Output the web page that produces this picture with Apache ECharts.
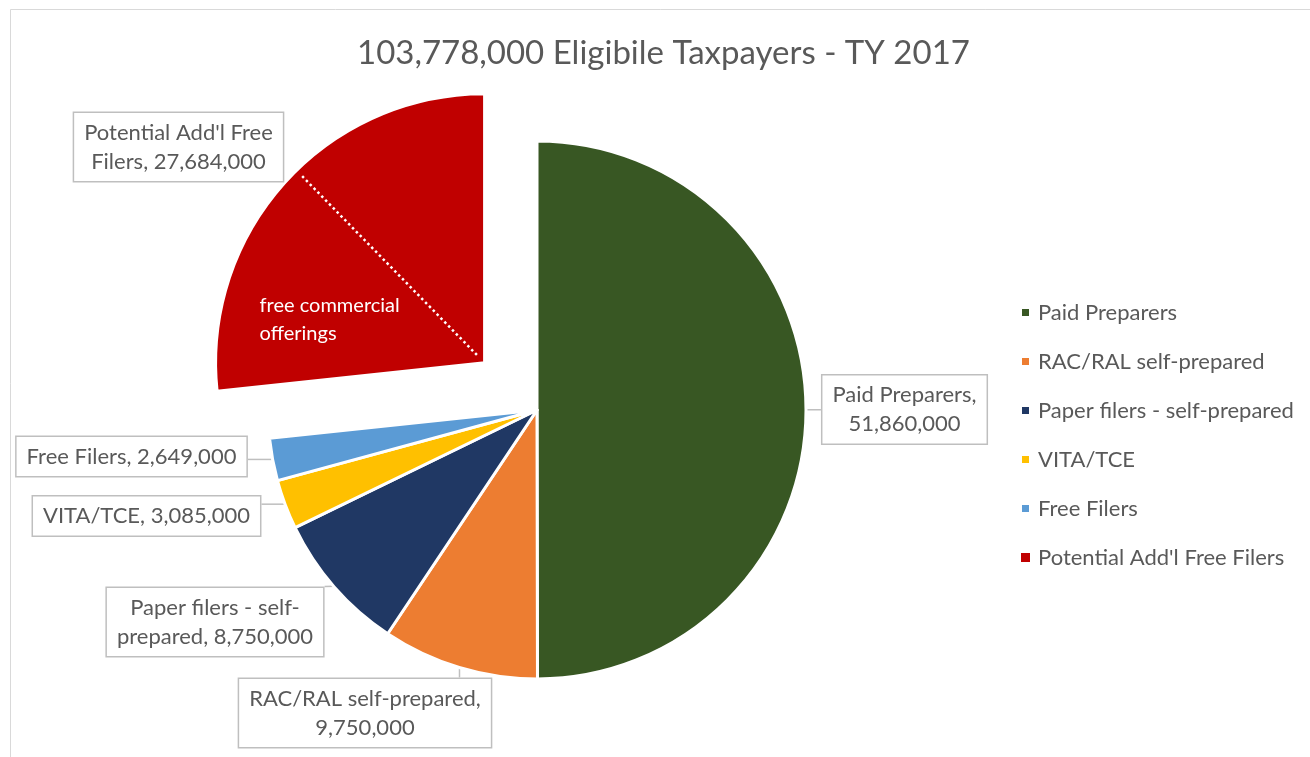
<!DOCTYPE html>
<html>
<head>
<meta charset="utf-8">
<script src="https://cdn.jsdelivr.net/npm/echarts@6/dist/echarts.min.js"></script>
<style>
  html, body { margin: 0; padding: 0; background: #fff; }
  #chart { width: 1310px; height: 757px; }
</style>
</head>
<body>
<div id="chart"></div>
<script>
// ---- data ----
const categories = ['Paid Preparers', 'RAC/RAL self-prepared', 'Paper filers - self-prepared', 'VITA/TCE', 'Free Filers', "Potential Add'l Free Filers"];
const taxpayers = [51860000, 9750000, 8750000, 3085000, 2649000, 27684000];
// estimated share of the exploded slice that is "free commercial offerings"
const freeCommercialOfferings = 14900000;
const labelTemplates = ['Paid Preparers,\n{v}', 'RAC/RAL self-prepared,\n{v}', 'Paper filers - self-\nprepared, {v}', 'VITA/TCE, {v}', 'Free Filers, {v}', "Potential Add'l Free\nFilers, {v}"];
const titleText = '103,778,000 Eligibile Taxpayers - TY 2017';

// ---- styles / layout ----
const colors = ['#385723', '#ED7D31', '#203864', '#FFC000', '#5B9BD5', '#C00000'];
const FONT = 'Lato';
const TEXT_COLOR = '#595959';
const CENTER = [537, 410];
const RADIUS = 269;
const OFFSET = 70.5;
const explodedIndex = 5;
const labelCenters = [[904.5, 409.5], [365, 713], [215, 622], [146.5, 516], [131.5, 456.5], [178.5, 147]];
const TRANSPARENT = 'rgba(0,0,0,0)';

const total = taxpayers.reduce((a, b) => a + b, 0);
const fmt = v => v.toLocaleString('en-US');

// angles (degrees clockwise from 12 o'clock), derived from data
const startAngles = [];
let acc = 0;
taxpayers.forEach(v => { startAngles.push(acc / total * 360); acc += v; });
const midAngles = taxpayers.map((v, i) => startAngles[i] + v / total * 180);
const rad = d => d * Math.PI / 180;
const polar = (c, r, deg) => [c[0] + r * Math.sin(rad(deg)), c[1] - r * Math.cos(rad(deg))];
const explodedCenter = polar(CENTER, OFFSET, midAngles[explodedIndex]);

const chart = echarts.init(document.getElementById('chart'), null, { renderer: 'canvas' });

const hidden = { label: { show: false }, labelLine: { show: false }, tooltip: { show: false } };

// main pie: exploded slice kept as an invisible placeholder
const mainData = categories.map((name, i) => {
  if (i === explodedIndex) {
    return Object.assign({ name: name, value: taxpayers[i], itemStyle: { color: TRANSPARENT, borderWidth: 0 } }, hidden);
  }
  return { name: name, value: taxpayers[i], itemStyle: { color: colors[i] } };
});

// exploded pie: the rest is an invisible placeholder
const restValue = total - taxpayers[explodedIndex];
const explodedData = [
  Object.assign({ name: '', value: restValue, itemStyle: { color: TRANSPARENT, borderWidth: 0 } }, hidden),
  { name: categories[explodedIndex], value: taxpayers[explodedIndex], itemStyle: { color: colors[explodedIndex] } }
];

// dotted split line inside exploded slice
const splitAngle = startAngles[explodedIndex] + freeCommercialOfferings / total * 360;
const p0 = polar(explodedCenter, 11, splitAngle);
const p1 = polar(explodedCenter, RADIUS - 8, splitAngle);

function makeLabelLayout(sliceIndexOf, centerOf) {
  return function (params) {
    const i = sliceIndexOf(params.dataIndex);
    if (i == null) return {};
    const c = labelCenters[i];
    const w = params.labelRect.width, h = params.labelRect.height;
    const x0 = c[0] - w / 2, x1 = c[0] + w / 2, y0 = c[1] - h / 2, y1 = c[1] + h / 2;
    const a = polar(centerOf, RADIUS - 1, midAngles[i]);
    const b = [Math.min(Math.max(a[0], x0), x1), Math.min(Math.max(a[1], y0), y1)];
    return { x: c[0], y: c[1], align: 'center', verticalAlign: 'middle', labelLinePoints: [a, b, b] };
  };
}

const labelStyle = {
  show: true,
  position: 'outside',
  fontFamily: FONT,
  fontSize: 22,
  color: TEXT_COLOR,
  lineHeight: 29,
  align: 'center',
  backgroundColor: '#ffffff',
  borderColor: '#BFBFBF',
  borderWidth: 1.5,
  padding: [5, 10]
};
const labelLineStyle = { show: true, length: 10, length2: 10, lineStyle: { color: '#BFBFBF', width: 1.5 } };

const option = {
  backgroundColor: '#ffffff',
  animation: false,
  title: {
    text: titleText,
    left: 357,
    top: 37,
    padding: 0,
    textStyle: { fontFamily: FONT, fontSize: 33, fontWeight: 'normal', color: TEXT_COLOR }
  },
  legend: {
    orient: 'vertical',
    left: 1020,
    top: 300,
    padding: 0,
    itemWidth: 9,
    itemHeight: 9,
    itemGap: 24,
    icon: 'rect',
    data: categories.map((name, i) => ({ name: name, itemStyle: { color: colors[i] } })),
    textStyle: { fontFamily: FONT, fontSize: 22, color: TEXT_COLOR, lineHeight: 25, padding: [0, 0, 0, 3] }
  },
  graphic: [
    {
      type: 'rect',
      silent: true,
      shape: { x: 10.5, y: 9.5, width: 1400, height: 800 },
      style: { fill: 'none', stroke: '#D9D9D9', lineWidth: 1 }
    },
    {
      type: 'line',
      silent: true,
      z: 10,
      shape: { x1: p0[0], y1: p0[1], x2: p1[0], y2: p1[1] },
      style: { stroke: '#ffffff', lineWidth: 2.5, lineDash: [2.5, 3] }
    },
    {
      type: 'text',
      silent: true,
      z: 10,
      x: explodedCenter[0] - 225,
      y: explodedCenter[1] - 71,
      style: {
        text: 'free commercial\nofferings',
        fill: '#ffffff',
        font: '20px ' + FONT,
        lineHeight: 28,
        align: 'left',
        verticalAlign: 'top'
      }
    }
  ],
  series: [
    {
      type: 'pie',
      center: CENTER,
      radius: RADIUS,
      startAngle: 90,
      clockwise: true,
      avoidLabelOverlap: false,
      emphasis: { disabled: true },
      itemStyle: { borderColor: '#ffffff', borderWidth: 3 },
      label: Object.assign({ formatter: p => labelTemplates[p.dataIndex].replace('{v}', fmt(p.value)) }, labelStyle),
      labelLine: labelLineStyle,
      labelLayout: makeLabelLayout(i => (i === explodedIndex ? null : i), CENTER),
      data: mainData
    },
    {
      type: 'pie',
      center: explodedCenter,
      radius: RADIUS,
      startAngle: 90,
      clockwise: true,
      avoidLabelOverlap: false,
      emphasis: { disabled: true },
      itemStyle: { borderColor: '#ffffff', borderWidth: 3 },
      label: Object.assign({ formatter: p => labelTemplates[explodedIndex].replace('{v}', fmt(p.value)) }, labelStyle),
      labelLine: labelLineStyle,
      labelLayout: makeLabelLayout(i => (i === 1 ? explodedIndex : null), explodedCenter),
      data: explodedData
    }
  ]
};
chart.setOption(option);
</script>
</body>
</html>
